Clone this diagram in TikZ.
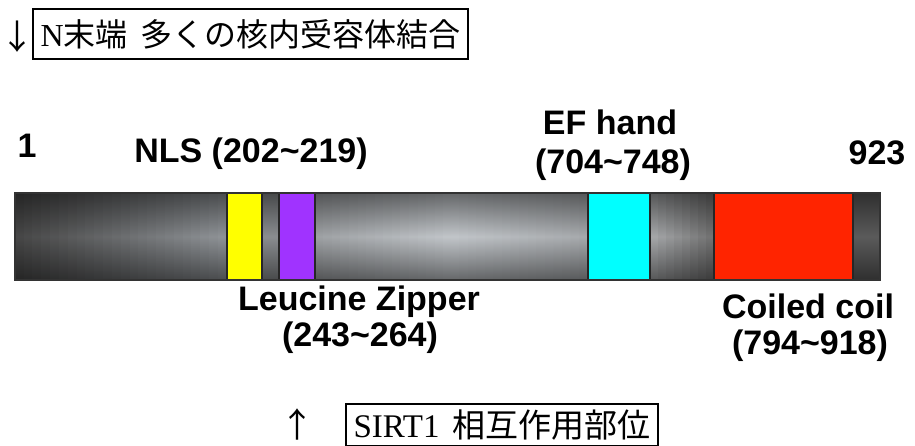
\documentclass[tikz,border=0pt]{standalone}
\usepackage{fontspec}
\setmainfont{Liberation Serif}
\setsansfont{Liberation Sans}
\newfontfamily\cjk{Noto Sans CJK JP}
\definecolor{gA}{HTML}{464646}
\definecolor{gB}{HTML}{909498}
\definecolor{gC}{HTML}{8A8D90}
\definecolor{gD}{HTML}{9EA1A4}
\definecolor{gE}{HTML}{C2C6CA}
\definecolor{gF}{HTML}{A6A9AC}
\definecolor{gG}{HTML}{A8AAAC}
\definecolor{gH}{HTML}{707070}
\definecolor{gI}{HTML}{5A5A5A}
\definecolor{nlsc}{HTML}{FFFF00}
\definecolor{lzc}{HTML}{A033FF}
\definecolor{efc}{HTML}{00FFFF}
\definecolor{ccc}{HTML}{FF2400}
\newcommand\mygradseg[5]{%
  \pgfmathsetmacro\segw{(#2-#1)/#5}%
  \foreach \k in {1,...,#5}{%
    \pgfmathsetmacro\xa{#1+(\k-1)*\segw}%
    \pgfmathsetmacro\xb{#1+\k*\segw+0.6}%
    \pgfmathsetmacro\pp{100-100*(\k-0.5)/#5}%
    \colorlet{tmpm}{#3!\pp!#4}%
    \fill[top color=tmpm!52!black, bottom color=tmpm!52!black, middle color=tmpm] (\xa,193) rectangle (\xb,280);
  }}
\begin{document}
\begin{tikzpicture}[x=1pt,y=-1pt,
  lab/.style={font=\fontsize{34}{38}\selectfont\bfseries\sffamily, inner sep=0pt, anchor=base},
  dom/.style={draw=black!85, line width=1.5pt},
  jbox/.style={draw, line width=2.4pt, inner sep=0pt, anchor=north west},
  arr/.style={font=\cjk\fontsize{34}{34}\selectfont, inner sep=0pt}]
\useasboundingbox (0,0) rectangle (915,446);
% top annotation
\node[arr] (darr) at (17,37) {↓};
\node[jbox, minimum width=435pt, minimum height=50pt, font=\fontsize{32}{36}\selectfont] (nterm) at (32,8)
  {N{\cjk 末端}\hspace{0.4em}{\cjk 多くの核内受容体結合}};
% bar gray segments
\mygradseg{15}{227}{gA}{gB}{24}
\mygradseg{262}{279}{gC}{gC}{1}
\mygradseg{315}{452}{gD}{gE}{16}
\mygradseg{451}{588}{gE}{gF}{16}
\mygradseg{650}{714}{gG}{gH}{8}
\mygradseg{853}{880}{gI}{gI}{1}
% domains
\draw[dom, fill=nlsc] (227,193) rectangle (262,280);
\draw[dom, fill=lzc] (279,193) rectangle (315,280);
\draw[dom, fill=efc] (588,193) rectangle (650,280);
\draw[dom, fill=ccc] (714,193) rectangle (853,280);
\draw[line width=1.2pt, black!80] (15,193) rectangle (880,280);
% labels
\node[lab] (one) at (27,158) {1};
\node[lab] (nls) at (251,163) {NLS (202\textasciitilde219)};
\node[lab] (ef) at (610,135) {EF hand};
\node[lab] (efr) at (613,174) {(704\textasciitilde748)};
\node[lab] (end) at (877,165) {923};
\node[lab] (lz) at (359,310) {Leucine Zipper};
\node[lab] (lzr) at (360,346) {(243\textasciitilde264)};
\node[lab] (cc) at (808,318) {Coiled coil};
\node[lab] (ccr) at (810,354) {(794\textasciitilde918)};
% bottom annotation
\node[arr] (uarr) at (297,424) {↑};
\node[jbox, minimum width=312pt, minimum height=42pt, font=\fontsize{33}{36}\selectfont] (sirt) at (345,403)
  {SIRT1\hspace{0.4em}{\cjk 相互作用部位}};
\end{tikzpicture}
\end{document}
